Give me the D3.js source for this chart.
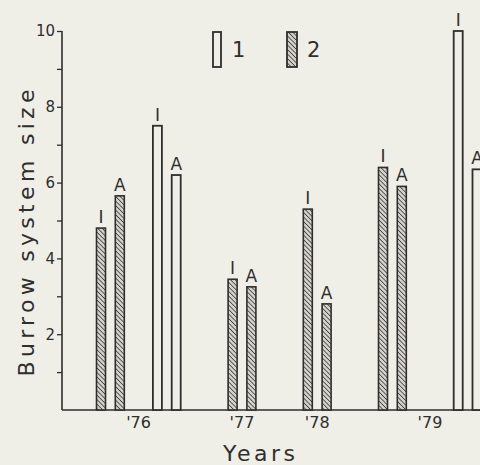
<!DOCTYPE html>
<html>
<head>
<meta charset="utf-8">
<script src="https://cdn.jsdelivr.net/npm/d3@7"></script>
<style>
  html, body { margin: 0; padding: 0; background: #efeee7; }
  text { font-family: 'DejaVu Sans', sans-serif; fill: #2e2e2e; }
</style>
</head>
<body>
<div id="chart"></div>
<script>
// ---- data ----
const years = ["'76", "'77", "'78", "'79"];
const barYear = ["'76", "'76", "'76", "'76", "'77", "'77", "'78", "'78", "'79", "'79", "'79", "'79"];
const barSeries = [2, 2, 1, 1, 2, 2, 2, 2, 2, 2, 1, 1];
const barTag = ['I', 'A', 'I', 'A', 'I', 'A', 'I', 'A', 'I', 'A', 'I', 'A'];
const barValue = [4.8, 5.65, 7.5, 6.2, 3.45, 3.25, 5.3, 2.8, 6.4, 5.9, 10, 6.35];
const yTicks = [2, 4, 6, 8, 10];
const yMinorTicks = [1, 3, 5, 7, 9];
const legendSeries = [1, 2];

// layout: slot index of each bar along the axis (gaps between groups)
const slots = [0, 1, 3, 4, 7, 8, 11, 12, 15, 16, 19, 20];

const ink = '#2e2e2e';
const bg = '#efeee7';
const W = 480, H = 465;
const x0 = 62, baseY = 410, topY = 31;
const barW = 9;

const bars = barValue.map((v, i) => ({
  value: v, year: barYear[i], series: barSeries[i], tag: barTag[i], slot: slots[i]
}));

const svg = d3.select('#chart').append('svg')
  .attr('width', W)
  .attr('height', H);

svg.append('rect').attr('width', W).attr('height', H).attr('fill', bg);

// hatch pattern
const defs = svg.append('defs');
const pat = defs.append('pattern')
  .attr('id', 'hatch')
  .attr('patternUnits', 'userSpaceOnUse')
  .attr('width', 3.2)
  .attr('height', 3.2)
  .attr('patternTransform', 'rotate(-45)');
pat.append('rect').attr('width', 3.2).attr('height', 3.2).attr('fill', '#d4d2ca');
pat.append('line')
  .attr('x1', 0).attr('y1', 0).attr('x2', 0).attr('y2', 3.2)
  .attr('stroke', '#353535').attr('stroke-width', 1.5);

//-------------------- Scales ----------------------------
const yScale = d3.scaleLinear().domain([0, 10]).range([baseY, topY]);
const xScale = d3.scaleLinear().domain([0, 20]).range([101, 477]);

//-------------------- Y axis ----------------------------
const yAxis = d3.axisLeft(yScale).tickValues(yTicks).tickSize(5).tickPadding(2).tickFormat(d3.format('d'));
const yAxisG = svg.append('g').attr('transform', 'translate(' + x0 + ',0)').call(yAxis);
yAxisG.select('.domain').remove();
yAxisG.selectAll('line').attr('stroke', ink).attr('stroke-width', 1.3);
yAxisG.selectAll('text').style('font-size', '15px').attr('fill', ink);

const yMinor = d3.axisLeft(yScale).tickValues(yMinorTicks).tickSize(5).tickFormat('');
const yMinorG = svg.append('g').attr('transform', 'translate(' + x0 + ',0)').call(yMinor);
yMinorG.select('.domain').remove();
yMinorG.selectAll('line').attr('stroke', ink).attr('stroke-width', 1.3);

svg.append('line')
  .attr('x1', x0).attr('x2', x0)
  .attr('y1', yScale(10)).attr('y2', yScale(0))
  .attr('stroke', ink).attr('stroke-width', 1.6);

// x baseline
svg.append('line')
  .attr('x1', x0).attr('x2', W)
  .attr('y1', yScale(0)).attr('y2', yScale(0))
  .attr('stroke', ink).attr('stroke-width', 1.6);

//-------------------- Bars ------------------------------
const barG = svg.append('g');
barG.selectAll('rect')
  .data(bars)
  .enter()
  .append('rect')
  .attr('x', d => xScale(d.slot) - barW / 2)
  .attr('width', barW)
  .attr('y', d => yScale(d.value))
  .attr('height', d => yScale(0) - yScale(d.value))
  .attr('fill', d => d.series === 2 ? 'url(#hatch)' : bg)
  .attr('stroke', ink)
  .attr('stroke-width', d => d.series === 2 ? 1.6 : 1.8);

barG.selectAll('text')
  .data(bars)
  .enter()
  .append('text')
  .attr('x', d => xScale(d.slot))
  .attr('y', d => yScale(d.value) - 5)
  .attr('text-anchor', 'middle')
  .style('font-size', '17px')
  .text(d => d.tag);

//-------------------- Year labels -----------------------
svg.append('g').selectAll('text')
  .data(years)
  .enter()
  .append('text')
  .attr('x', y => xScale(d3.mean(bars.filter(b => b.year === y), b => b.slot)))
  .attr('y', 428)
  .attr('text-anchor', 'middle')
  .style('font-size', '16px')
  .text(y => y);

//-------------------- Axis titles -----------------------
svg.append('text')
  .attr('x', 259)
  .attr('y', 461)
  .attr('text-anchor', 'middle')
  .style('font-size', '22px')
  .attr('textLength', 72)
  .attr('lengthAdjust', 'spacing')
  .text('Years');

svg.append('text')
  .attr('transform', 'translate(34,233) rotate(-90)')
  .attr('text-anchor', 'middle')
  .style('font-size', '22px')
  .attr('textLength', 287)
  .attr('lengthAdjust', 'spacing')
  .text('Burrow system size');

//-------------------- Legend ----------------------------
const legendX = d3.scalePoint().domain(legendSeries).range([217, 292]);
const legend = svg.append('g').selectAll('g')
  .data(legendSeries)
  .enter()
  .append('g')
  .attr('transform', s => 'translate(' + legendX(s) + ',32)');
legend.append('rect')
  .attr('x', s => s === 2 ? -5 : -4)
  .attr('width', s => s === 2 ? 10 : 8)
  .attr('height', 35)
  .attr('fill', s => s === 2 ? 'url(#hatch)' : bg)
  .attr('stroke', ink)
  .attr('stroke-width', 1.8);
legend.append('text')
  .attr('x', 15)
  .attr('y', 25)
  .style('font-size', '21px')
  .text(s => s);
</script>
</body>
</html>
